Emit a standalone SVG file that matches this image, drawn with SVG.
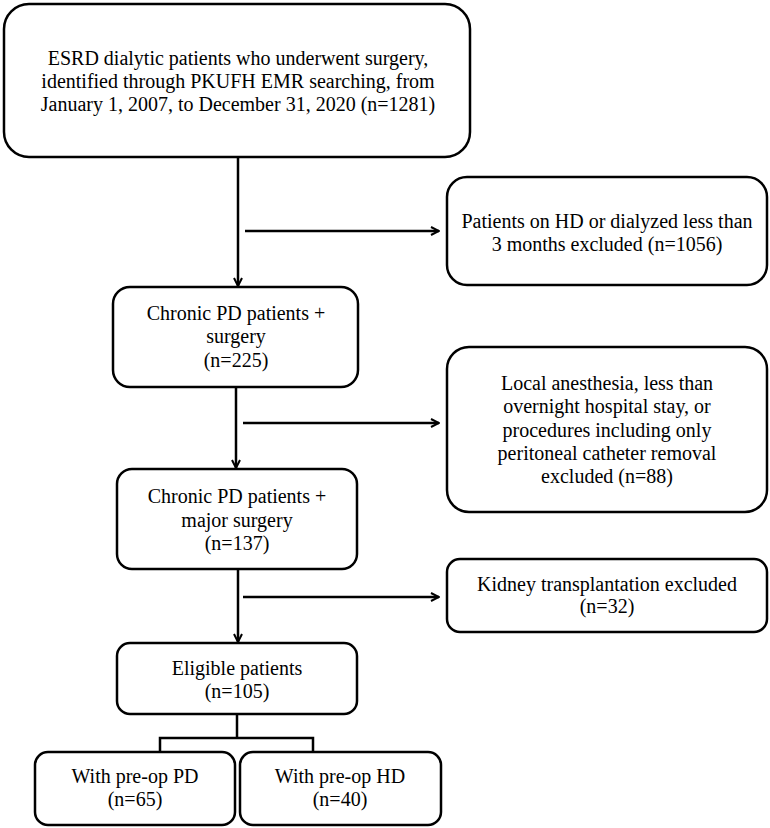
<svg xmlns="http://www.w3.org/2000/svg" width="770" height="828" viewBox="0 0 770 828">
<style>
.box{fill:#fff;stroke:#000;stroke-width:2.5}
.t{font-family:"Liberation Serif","Times New Roman",serif;font-size:20px;fill:#000;text-anchor:middle}
.c{fill:none;stroke:#000;stroke-width:2.5}
</style>
<defs>
<marker id="ah" viewBox="0 0 10 10" refX="9" refY="5" markerWidth="10" markerHeight="10" markerUnits="userSpaceOnUse" orient="auto">
<path d="M1,1 L9,5 L1,9" fill="none" stroke="#000" stroke-width="2"/>
</marker>
</defs>
<rect width="770" height="828" fill="#fff"/>
<g id="connectors">
<line class="c" x1="238" y1="157" x2="238" y2="286" marker-end="url(#ah)"/>
<line class="c" x1="245" y1="231" x2="439" y2="231" marker-end="url(#ah)"/>
<line class="c" x1="236" y1="387" x2="236" y2="468" marker-end="url(#ah)"/>
<line class="c" x1="243" y1="423" x2="439" y2="423" marker-end="url(#ah)"/>
<line class="c" x1="238" y1="569" x2="238" y2="642" marker-end="url(#ah)"/>
<line class="c" x1="243" y1="597" x2="439" y2="597" marker-end="url(#ah)"/>
<polyline class="c" points="237,714 237,738"/>
<polyline class="c" points="160,752 160,738 313,738 313,752"/>
</g>
<g id="n1">
<rect class="box" x="4" y="4" width="466" height="153" rx="25"/>
<text class="t" x="238" y="65">ESRD dialytic patients who underwent surgery,</text>
<text class="t" x="238" y="88">identified through PKUFH EMR searching, from</text>
<text class="t" x="238" y="111">January 1, 2007, to December 31, 2020 (n=1281)</text>
</g>
<g id="n2">
<rect class="box" x="447" y="177" width="320" height="108" rx="20"/>
<text class="t" x="607" y="228">Patients on HD or dialyzed less than</text>
<text class="t" x="607" y="251">3 months excluded (n=1056)</text>
</g>
<g id="n3">
<rect class="box" x="113" y="287" width="245" height="100" rx="17"/>
<text class="t" x="236" y="320">Chronic PD patients +</text>
<text class="t" x="236" y="343">surgery</text>
<text class="t" x="236" y="367">(n=225)</text>
</g>
<g id="n4">
<rect class="box" x="447" y="347" width="320" height="165" rx="22"/>
<text class="t" x="607" y="390">Local anesthesia, less than</text>
<text class="t" x="607" y="413">overnight hospital stay, or</text>
<text class="t" x="607" y="437">procedures including only</text>
<text class="t" x="607" y="460">peritoneal catheter removal</text>
<text class="t" x="607" y="483">excluded (n=88)</text>
</g>
<g id="n5">
<rect class="box" x="117" y="469" width="240" height="100" rx="15"/>
<text class="t" x="237" y="503">Chronic PD patients +</text>
<text class="t" x="237" y="527">major surgery</text>
<text class="t" x="237" y="550">(n=137)</text>
</g>
<g id="n6">
<rect class="box" x="447" y="559" width="320" height="73" rx="13"/>
<text class="t" x="607" y="591">Kidney transplantation excluded</text>
<text class="t" x="607" y="613">(n=32)</text>
</g>
<g id="n7">
<rect class="box" x="117" y="643" width="240" height="71" rx="13"/>
<text class="t" x="237" y="675">Eligible patients</text>
<text class="t" x="237" y="698">(n=105)</text>
</g>
<g id="n8">
<rect class="box" x="35" y="752" width="200" height="73" rx="13"/>
<text class="t" x="135" y="783">With pre-op PD</text>
<text class="t" x="135" y="806">(n=65)</text>
</g>
<g id="n9">
<rect class="box" x="240" y="752" width="201" height="73" rx="13"/>
<text class="t" x="340" y="783">With pre-op HD</text>
<text class="t" x="340" y="806">(n=40)</text>
</g>
</svg>
